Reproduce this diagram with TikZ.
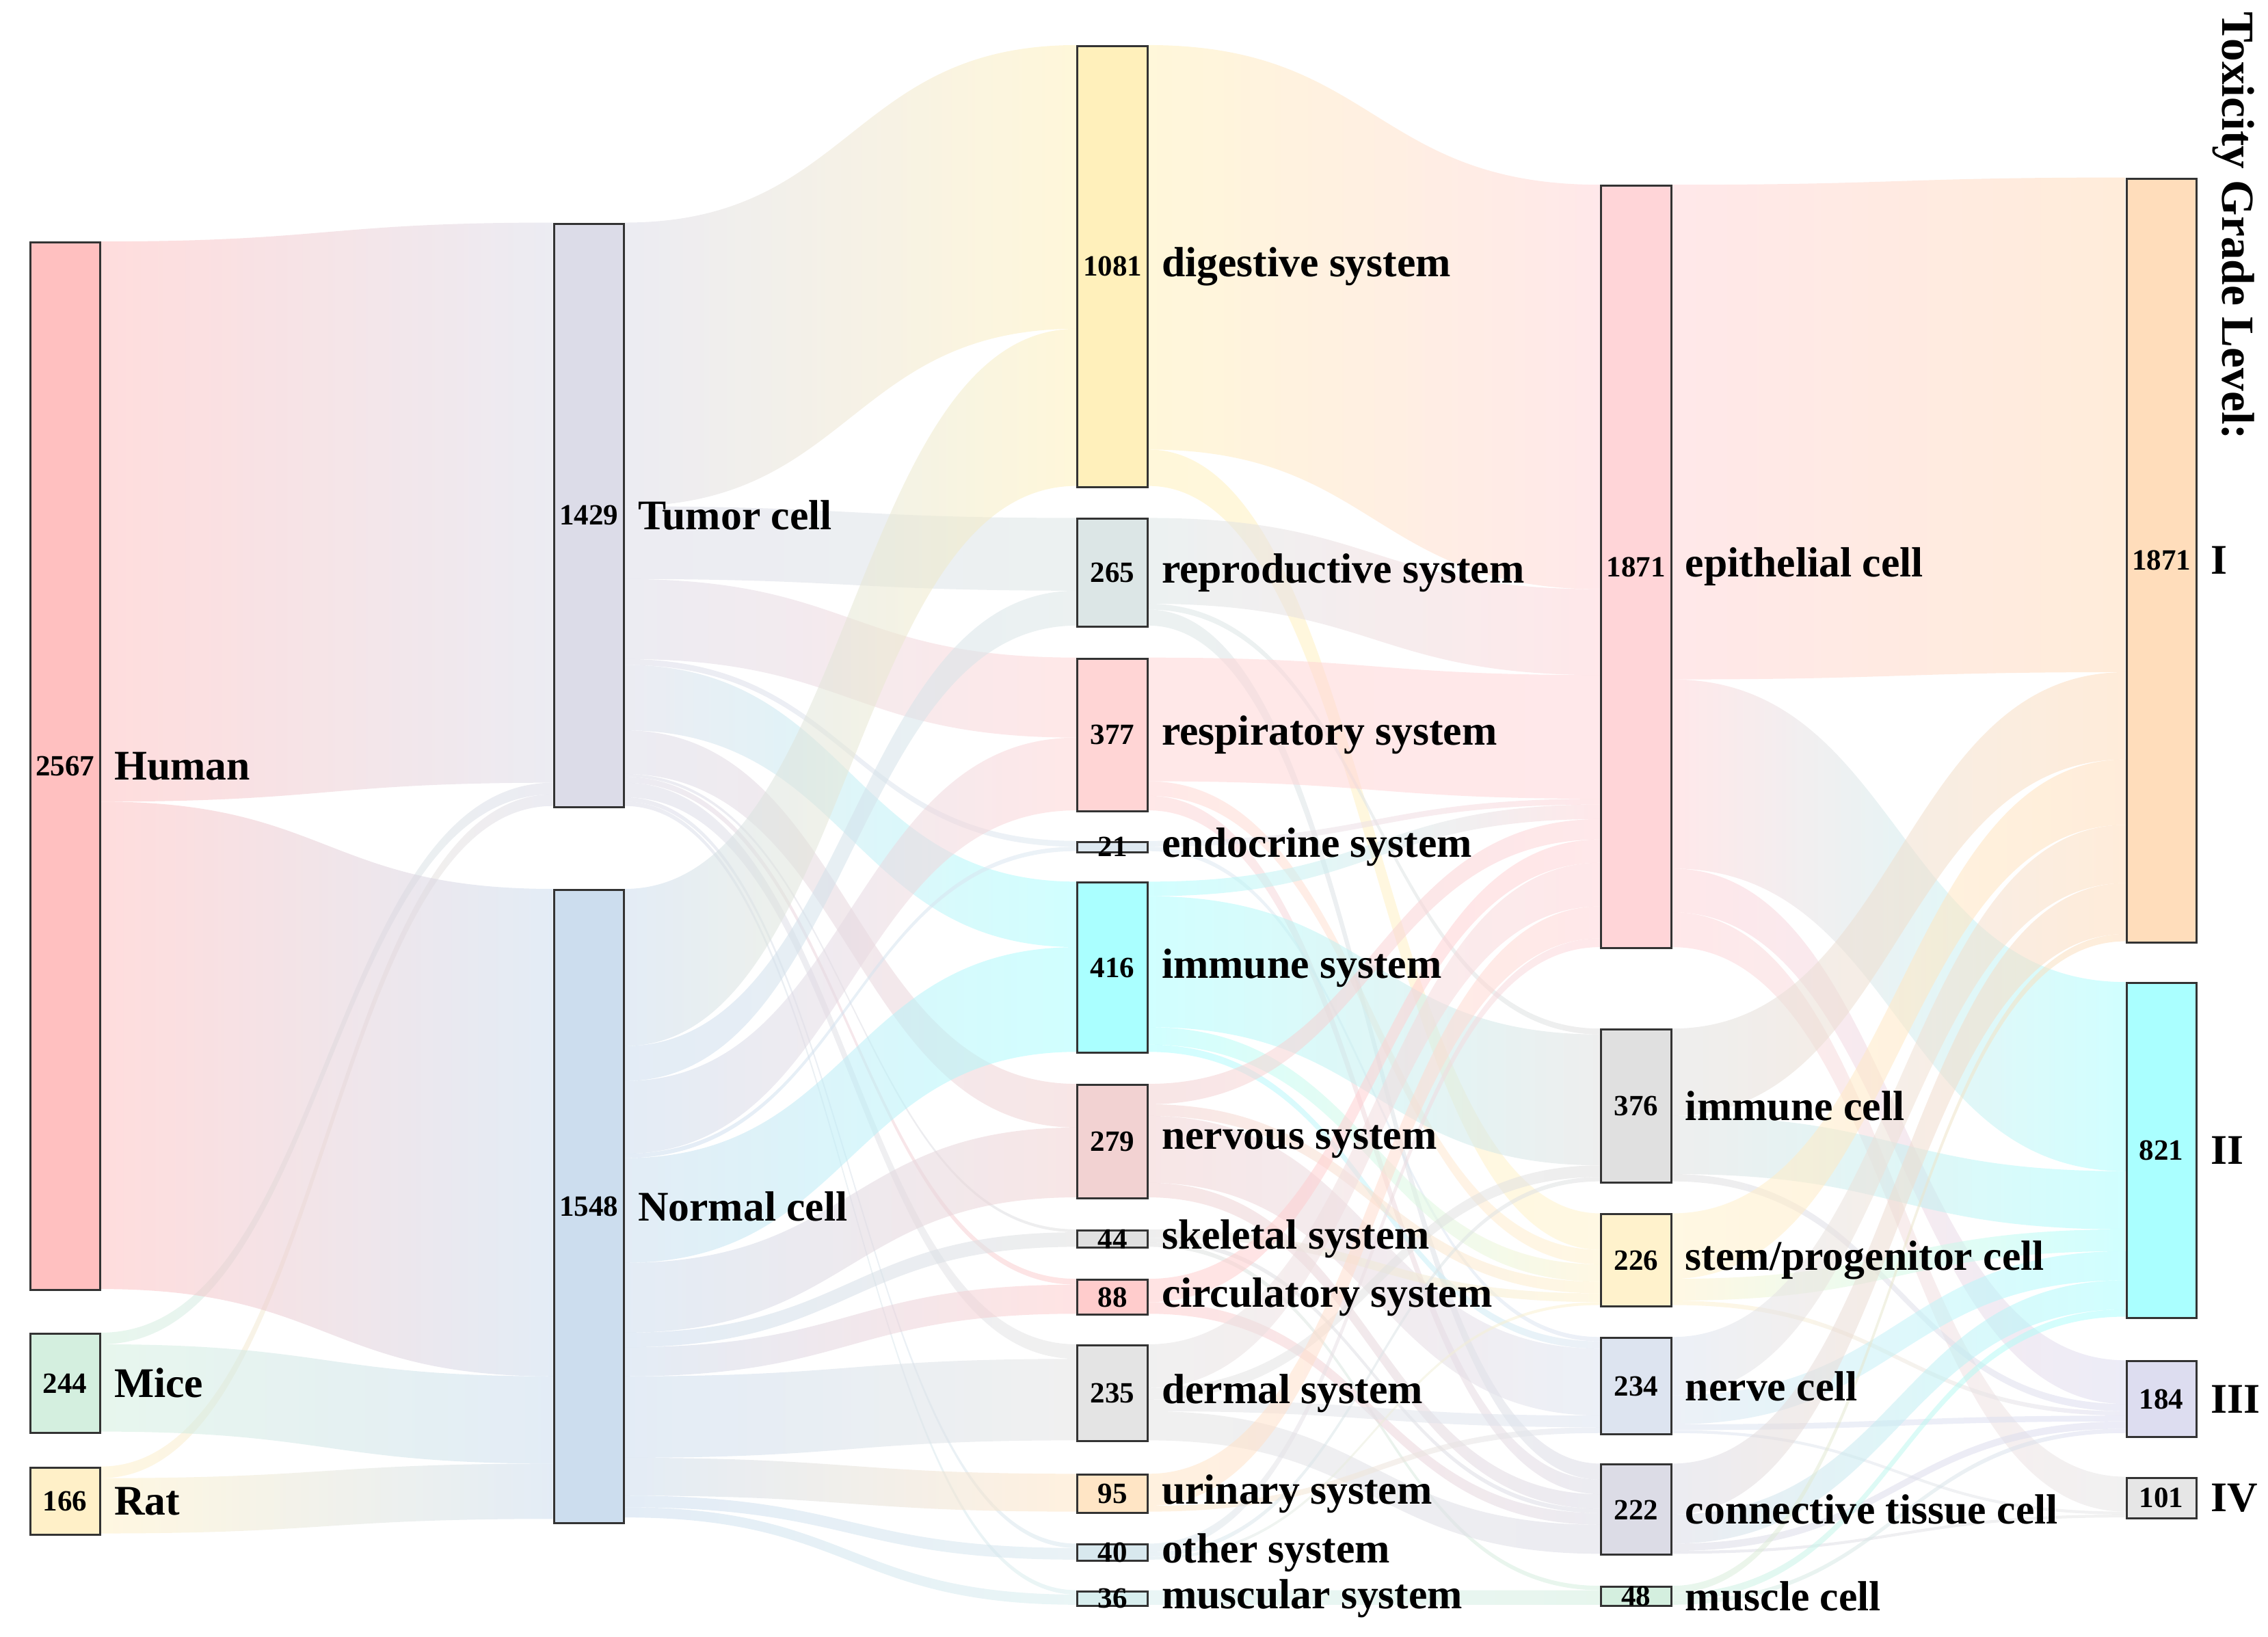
\documentclass[tikz,border=0pt]{standalone}
\usepackage{fontspec}
\setmainfont{Liberation Serif}
\usetikzlibrary{positioning,calc,backgrounds}

\definecolor{cHum}{HTML}{FFC0C0}\definecolor{cMic}{HTML}{D4EFDF}\definecolor{cRat}{HTML}{FFF0C8}
\definecolor{cTum}{HTML}{DCDCE8}\definecolor{cNor}{HTML}{CCDDEE}
\definecolor{cDig}{HTML}{FFF0BB}\definecolor{cRep}{HTML}{DCE6E6}\definecolor{cRes}{HTML}{FFD5D5}
\definecolor{cEnd}{HTML}{DDE8F0}\definecolor{cImm}{HTML}{AAFFFF}\definecolor{cNrv}{HTML}{F2D2D2}
\definecolor{cSke}{HTML}{E0E0E0}\definecolor{cCir}{HTML}{FFCCCC}\definecolor{cDer}{HTML}{E4E4E4}
\definecolor{cUri}{HTML}{FFE5C5}\definecolor{cOth}{HTML}{D8E8EE}\definecolor{cMsc}{HTML}{D8EEEE}
\definecolor{cEpi}{HTML}{FFD5D8}\definecolor{cImc}{HTML}{E0E0E0}\definecolor{cStm}{HTML}{FFF2CC}
\definecolor{cNvc}{HTML}{DDE4F0}\definecolor{cCon}{HTML}{DCDCE6}\definecolor{cMus}{HTML}{D4EFDF}
\definecolor{cGa}{HTML}{FFDDBB}\definecolor{cGb}{HTML}{AAFFFF}\definecolor{cGc}{HTML}{DDDDF0}\definecolor{cGd}{HTML}{E6E6E6}

% bar: name, x, top, bottom, colour, count, label
\newcommand{\barnode}[7]{%
  \node[Bar, fill=#5, minimum height={(#4-#3)*0.02cm}, anchor=north west] (#1) at (#2,#3) {};
  \node[Num] (#1-n) at (#1) {#6};
  \node[Label, right=5pt of #1] (#1-l) {#7};}
% flow: source, offset, target, offset, thickness, colours
\newcommand{\flow}[7]{%
  \shade[left color=#6, right color=#7, opacity=.55]
    ($(#1.north east)+(0,#2)$) .. controls +(156,0) and +(-156,0) .. ($(#3.north west)+(0,#4)$)
    -- ++(0,#5) .. controls +(-156,0) and +(156,0) .. ($(#1.north east)+(0,#2+#5)$) -- cycle;}

\begin{document}
\begin{tikzpicture}
    [
        x=0.02cm, y=-0.02cm,
        Bar/.style={rectangle,draw=black!80,line width=0.8pt,minimum width=0.96cm,inner sep=0pt},
        Num/.style={font=\bfseries\fontsize{11.5}{12}\selectfont,inner sep=0pt},
        Label/.style={font=\bfseries\fontsize{16.5}{18}\selectfont,inner sep=0pt,anchor=west}
    ]
    \useasboundingbox (0,0) rectangle (1559,1125);

    \barnode{hum}{20}{166}{886}{cHum}{2567}{Human}
    \barnode{mice}{20}{916}{984}{cMic}{244}{Mice}
    \barnode{rat}{20}{1008}{1054}{cRat}{166}{Rat}

    \barnode{tumor}{380}{153}{554}{cTum}{1429}{Tumor cell}
    \barnode{normal}{380}{611}{1046}{cNor}{1548}{Normal cell}

    \barnode{dig}{740}{31}{334}{cDig}{1081}{digestive system}
    \barnode{rep}{740}{356}{430}{cRep}{265}{reproductive system}
    \barnode{resp}{740}{452}{557}{cRes}{377}{respiratory system}
    \barnode{endo}{740}{578}{585}{cEnd}{21}{endocrine system}
    \barnode{imm}{740}{606}{723}{cImm}{416}{immune system}
    \barnode{nerv}{740}{745}{823}{cNrv}{279}{nervous system}
    \barnode{skel}{740}{845}{857}{cSke}{44}{skeletal system}
    \barnode{circ}{740}{879}{903}{cCir}{88}{circulatory system}
    \barnode{derm}{740}{924}{990}{cDer}{235}{dermal system}
    \barnode{uri}{740}{1013}{1039}{cUri}{95}{urinary system}
    \barnode{oth}{740}{1061}{1072}{cOth}{40}{other system}
    \barnode{musc}{740}{1093}{1103}{cMsc}{36}{muscular system}

    \barnode{epi}{1100}{127}{651}{cEpi}{1871}{epithelial cell}
    \barnode{immc}{1100}{707}{812}{cImc}{376}{immune cell}
    \barnode{stem}{1100}{834}{897}{cStm}{226}{stem/progenitor cell}
    \barnode{nrvc}{1100}{919}{985}{cNvc}{234}{nerve cell}
    \barnode{conn}{1100}{1006}{1068}{cCon}{222}{connective tissue cell}
    \barnode{mus}{1100}{1090}{1103}{cMus}{48}{muscle cell}

    \barnode{gI}{1461}{122}{647}{cGa}{1871}{I}
    \barnode{gII}{1461}{675}{905}{cGb}{821}{II}
    \barnode{gIII}{1461}{935}{987}{cGc}{184}{III}
    \barnode{gIV}{1461}{1015}{1043}{cGd}{101}{IV}

    \node[font=\bfseries\fontsize{18}{20}\selectfont,rotate=-90,anchor=north west,inner sep=0pt] (title) at (1550,8) {Toxicity Grade Level:};

    \begin{pgfonlayer}{background}
    % species -> cell type
    \flow{hum}{0}{tumor}{0}{385}{cHum}{cTum}
    \flow{mice}{0}{tumor}{385}{8}{cMic}{cTum}
    \flow{rat}{0}{tumor}{393}{8}{cRat}{cTum}
    \flow{hum}{385}{normal}{0}{335}{cHum}{cNor}
    \flow{mice}{8}{normal}{335}{60}{cMic}{cNor}
    \flow{rat}{8}{normal}{395}{38}{cRat}{cNor}
    % cell type -> system
    \flow{tumor}{0}{dig}{0}{195}{cTum}{cDig}
    \flow{tumor}{195}{rep}{0}{50}{cTum}{cRep}
    \flow{tumor}{245}{resp}{0}{55}{cTum}{cRes}
    \flow{tumor}{300}{endo}{0}{4}{cTum}{cEnd}
    \flow{tumor}{304}{imm}{0}{45}{cTum}{cImm}
    \flow{tumor}{349}{nerv}{0}{30}{cTum}{cNrv}
    \flow{tumor}{379}{skel}{0}{2}{cTum}{cSke}
    \flow{tumor}{381}{circ}{0}{4}{cTum}{cCir}
    \flow{tumor}{385}{derm}{0}{10}{cTum}{cDer}
    \flow{tumor}{395}{oth}{0}{3}{cTum}{cOth}
    \flow{tumor}{398}{musc}{0}{3}{cTum}{cMsc}
    \flow{normal}{0}{dig}{195}{108}{cNor}{cDig}
    \flow{normal}{108}{rep}{50}{24}{cNor}{cRep}
    \flow{normal}{132}{resp}{55}{50}{cNor}{cRes}
    \flow{normal}{182}{endo}{4}{3}{cNor}{cEnd}
    \flow{normal}{185}{imm}{45}{72}{cNor}{cImm}
    \flow{normal}{257}{nerv}{30}{48}{cNor}{cNrv}
    \flow{normal}{305}{skel}{2}{10}{cNor}{cSke}
    \flow{normal}{315}{circ}{4}{20}{cNor}{cCir}
    \flow{normal}{335}{derm}{10}{56}{cNor}{cDer}
    \flow{normal}{391}{uri}{0}{26}{cNor}{cUri}
    \flow{normal}{417}{oth}{3}{8}{cNor}{cOth}
    \flow{normal}{425}{musc}{3}{7}{cNor}{cMsc}
    % system -> cell
    \flow{dig}{0}{epi}{0}{278}{cDig}{cEpi}
    \flow{dig}{278}{stem}{0}{25}{cDig}{cStm}
    \flow{rep}{0}{epi}{278}{59}{cRep}{cEpi}
    \flow{rep}{59}{immc}{0}{4}{cRep}{cImc}
    \flow{rep}{63}{conn}{0}{11}{cRep}{cCon}
    \flow{resp}{0}{epi}{337}{85}{cRes}{cEpi}
    \flow{resp}{85}{stem}{25}{10}{cRes}{cStm}
    \flow{resp}{95}{conn}{11}{10}{cRes}{cCon}
    \flow{endo}{0}{epi}{422}{4}{cEnd}{cEpi}
    \flow{endo}{4}{nrvc}{0}{3}{cEnd}{cNvc}
    \flow{imm}{0}{epi}{426}{10}{cImm}{cEpi}
    \flow{imm}{10}{immc}{4}{90}{cImm}{cImc}
    \flow{imm}{100}{stem}{35}{12}{cImm}{cStm}
    \flow{imm}{112}{nrvc}{3}{5}{cImm}{cNvc}
    \flow{nerv}{0}{epi}{436}{14}{cNrv}{cEpi}
    \flow{nerv}{14}{stem}{47}{8}{cNrv}{cStm}
    \flow{nerv}{22}{nrvc}{8}{46}{cNrv}{cNvc}
    \flow{nerv}{68}{conn}{21}{10}{cNrv}{cCon}
    \flow{skel}{0}{stem}{55}{6}{cSke}{cStm}
    \flow{skel}{6}{conn}{31}{3}{cSke}{cCon}
    \flow{skel}{9}{mus}{0}{3}{cSke}{cMus}
    \flow{circ}{0}{epi}{450}{16}{cCir}{cEpi}
    \flow{circ}{16}{conn}{34}{8}{cCir}{cCon}
    \flow{derm}{0}{epi}{466}{30}{cDer}{cEpi}
    \flow{derm}{30}{immc}{94}{8}{cDer}{cImc}
    \flow{derm}{38}{nrvc}{54}{8}{cDer}{cNvc}
    \flow{derm}{46}{conn}{42}{20}{cDer}{cCon}
    \flow{uri}{0}{epi}{496}{22}{cUri}{cEpi}
    \flow{uri}{22}{nrvc}{62}{4}{cUri}{cNvc}
    \flow{oth}{0}{epi}{518}{6}{cOth}{cEpi}
    \flow{oth}{6}{immc}{102}{3}{cOth}{cImc}
    \flow{oth}{9}{stem}{61}{2}{cOth}{cStm}
    \flow{musc}{0}{mus}{3}{10}{cMsc}{cMus}
    % cell -> grade
    \flow{epi}{0}{gI}{0}{340}{cEpi}{cGa}
    \flow{epi}{340}{gII}{0}{130}{cEpi}{cGb}
    \flow{epi}{470}{gIII}{0}{30}{cEpi}{cGc}
    \flow{epi}{500}{gIV}{0}{24}{cEpi}{cGd}
    \flow{immc}{0}{gI}{340}{60}{cImc}{cGa}
    \flow{immc}{60}{gII}{130}{40}{cImc}{cGb}
    \flow{immc}{100}{gIII}{30}{5}{cImc}{cGc}
    \flow{stem}{0}{gI}{400}{45}{cStm}{cGa}
    \flow{stem}{45}{gII}{170}{15}{cStm}{cGb}
    \flow{stem}{60}{gIII}{35}{3}{cStm}{cGc}
    \flow{nrvc}{0}{gI}{445}{40}{cNvc}{cGa}
    \flow{nrvc}{40}{gII}{185}{20}{cNvc}{cGb}
    \flow{nrvc}{60}{gIII}{38}{4}{cNvc}{cGc}
    \flow{nrvc}{64}{gIV}{24}{2}{cNvc}{cGd}
    \flow{conn}{0}{gI}{485}{35}{cCon}{cGa}
    \flow{conn}{35}{gII}{205}{20}{cCon}{cGb}
    \flow{conn}{55}{gIII}{42}{5}{cCon}{cGc}
    \flow{conn}{60}{gIV}{26}{2}{cCon}{cGd}
    \flow{mus}{0}{gI}{520}{5}{cMus}{cGa}
    \flow{mus}{5}{gII}{225}{5}{cMus}{cGb}
    \flow{mus}{10}{gIII}{47}{3}{cMus}{cGc}
    \end{pgfonlayer}
\end{tikzpicture}
\end{document}
